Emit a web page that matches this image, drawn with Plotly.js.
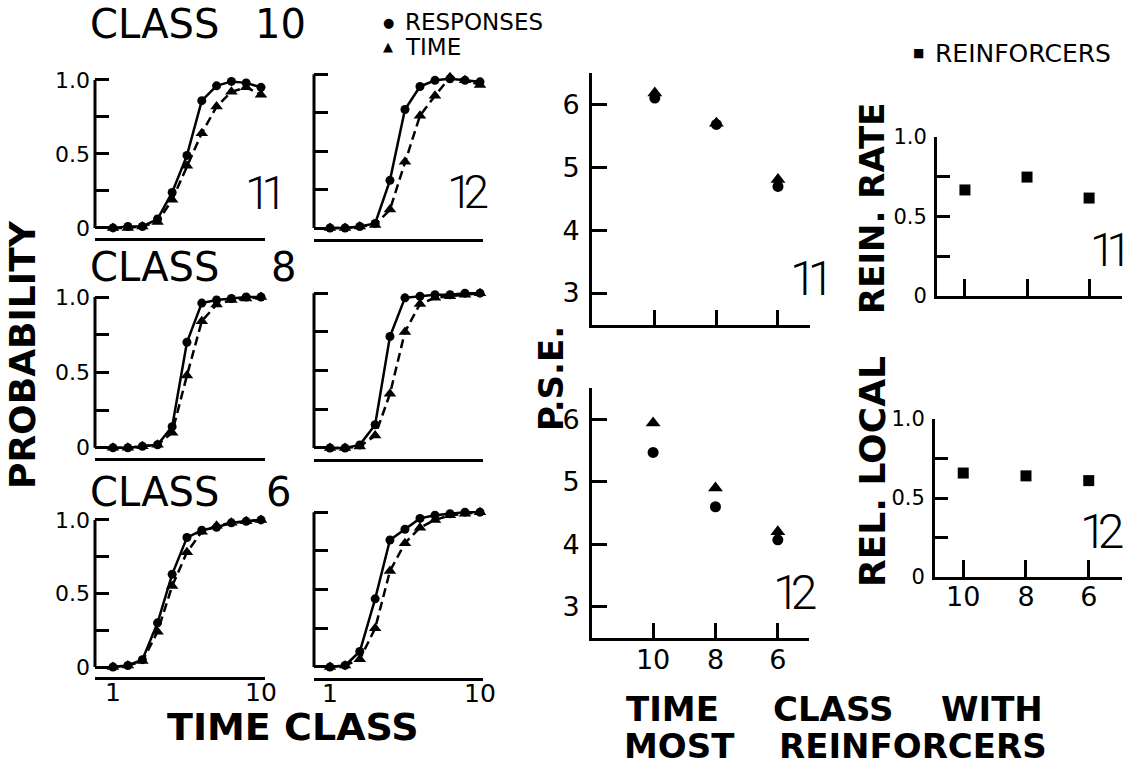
<!DOCTYPE html>
<html>
<head>
<meta charset="utf-8">
<script src="https://cdn.plot.ly/plotly-3.0.1.min.js"></script>
<style>body{margin:0;background:#fff}#chart{width:1130px;height:767px}</style>
</head>
<body>
<div id="chart"></div>
<script>
// ---------- data ----------
const timeClass = [1, 1.26, 1.58, 2, 2.51, 3.16, 3.98, 5.01, 6.31, 7.94, 10];

const s11c10Resp = [0, 0.01, 0.01, 0.06, 0.24, 0.49, 0.86, 0.96, 0.99, 0.98, 0.95];
const s11c10Time = [0, 0, 0.01, 0.04, 0.19, 0.42, 0.64, 0.82, 0.92, 0.95, 0.90];
const s12c10Resp = [0, 0, 0.01, 0.03, 0.31, 0.77, 0.92, 0.96, 0.97, 0.96, 0.95];
const s12c10Time = [0, 0, 0.01, 0.02, 0.12, 0.43, 0.73, 0.86, 0.98, 0.96, 0.93];
const s11c8Resp  = [0, 0, 0.01, 0.02, 0.14, 0.70, 0.96, 0.98, 0.99, 1.0, 1.0];
const s11c8Time  = [0, 0, 0.01, 0.02, 0.10, 0.48, 0.84, 0.95, 0.98, 0.99, 1.0];
const s12c8Resp  = [0, 0, 0.02, 0.15, 0.72, 0.97, 0.98, 0.99, 0.99, 1.0, 1.0];
const s12c8Time  = [0, 0, 0.01, 0.08, 0.35, 0.75, 0.93, 0.97, 0.98, 0.99, 1.0];
const s11c6Resp  = [0, 0.01, 0.05, 0.30, 0.63, 0.88, 0.93, 0.95, 0.98, 0.99, 1.0];
const s11c6Time  = [0, 0.01, 0.04, 0.24, 0.55, 0.78, 0.92, 0.96, 0.98, 0.99, 1.0];
const s12c6Resp  = [0, 0.01, 0.10, 0.44, 0.82, 0.89, 0.96, 0.98, 0.99, 1.0, 1.0];
const s12c6Time  = [0, 0.01, 0.05, 0.25, 0.62, 0.80, 0.90, 0.95, 0.98, 0.99, 1.0];

const classes = ['10', '8', '6'];
const pse11Resp = [6.11, 5.69, 4.70];
const pse11Time = [6.19, 5.71, 4.81];
const pse12Resp = [5.47, 4.60, 4.07];
const pse12Time = [5.94, 4.90, 4.20];
const rein11 = [0.667, 0.748, 0.616];
const rein12 = [0.658, 0.640, 0.610];

const probTickVals = [0, 0.25, 0.5, 0.75, 1];
const probTickText = ['0', '', '0.5', '', '1.0'];
const pseTickVals = [3, 4, 5, 6];

// ---------- layout helpers ----------
const W = 1130, H = 767;
const FONT = 'DejaVu Sans';
const xd = (a, b) => [a / W, b / W];
const yd = (t, b) => [1 - b / H, 1 - t / H];

const traces = [];
const layout = {
  width: W, height: H, autosize: false,
  margin: {l: 0, r: 0, t: 0, b: 0},
  paper_bgcolor: '#fff', plot_bgcolor: 'rgba(0,0,0,0)',
  showlegend: false,
  font: {family: FONT, color: '#000'},
  shapes: [], annotations: []
};

// left six probability panels
const probPanels = [
  {resp: s11c10Resp, time: s11c10Time, x: [95, 265], y: [74, 238], left: true,  bottom: false, x1: 113, dec: 148},
  {resp: s12c10Resp, time: s12c10Time, x: [314, 483], y: [68, 238.5], left: false, bottom: false, x1: 330, dec: 150},
  {resp: s11c8Resp,  time: s11c8Time,  x: [95, 265], y: [291, 458], left: true,  bottom: false, x1: 113, dec: 148},
  {resp: s12c8Resp,  time: s12c8Time,  x: [314, 483], y: [287, 458.5], left: false, bottom: false, x1: 330, dec: 150},
  {resp: s11c6Resp,  time: s11c6Time,  x: [95, 265], y: [514, 677], left: true,  bottom: true, x1: 113, dec: 148},
  {resp: s12c6Resp,  time: s12c6Time,  x: [314, 483], y: [506, 677.5], left: false, bottom: true, x1: 330, dec: 150}
];

probPanels.forEach((p, i) => {
  const n = i + 1;
  const xa = 'x' + (n === 1 ? '' : n), ya = 'y' + (n === 1 ? '' : n);
  const xk = 'xaxis' + (n === 1 ? '' : n), yk = 'yaxis' + (n === 1 ? '' : n);
  traces.push({
    x: timeClass, y: p.time, xaxis: xa, yaxis: ya, type: 'scatter', mode: 'lines+markers',
    line: {color: '#000', width: 2.5, dash: '9px,5px'},
    marker: {symbol: 'triangle-up', size: 11, color: '#000'}, cliponaxis: false
  });
  traces.push({
    x: timeClass, y: p.resp, xaxis: xa, yaxis: ya, type: 'scatter', mode: 'lines+markers',
    line: {color: '#000', width: 2.5},
    marker: {symbol: 'circle', size: 9, color: '#000'}, cliponaxis: false
  });
  const lo = (p.x[0] - p.x1) / p.dec, hi = (p.x[1] - p.x1) / p.dec;
  layout[xk] = {
    domain: xd(p.x[0], p.x[1]), anchor: ya, type: 'log', range: [lo, hi],
    showline: true, linewidth: 3, linecolor: '#000', showgrid: false, zeroline: false,
    ticks: '', showticklabels: p.bottom, tickvals: [1, 10], ticktext: ['1', '10'],
    tickfont: {family: FONT, size: 25, color: '#000'}, ticklabelstandoff: -9
  };
  layout[yk] = {
    domain: yd(p.y[0], p.y[1]), anchor: xa, range: [-0.068, 1.04],
    showline: false, showgrid: false, zeroline: false,
    ticks: 'inside', ticklen: 14, tickwidth: 3, tickcolor: '#000',
    tickvals: probTickVals, ticktext: probTickText, showticklabels: p.left,
    tickfont: {family: FONT, size: 22, color: '#000'}, ticklabelstandoff: 4
  };
  layout.shapes.push({
    type: 'line', xref: xa + ' domain', yref: ya, x0: 0, x1: 0, y0: 0, y1: 1,
    line: {color: '#000', width: 3}
  });
});

// P.S.E. panels
const psePanels = [
  {resp: pse11Resp, time: pse11Time, x: [592, 810], y: [73, 325], xr: [-1.02, 2.52], yr: [2.49, 6.51], labels: false},
  {resp: pse12Resp, time: pse12Time, x: [592, 809], y: [388, 638], xr: [-0.98, 2.5], yr: [2.5, 6.5], labels: true}
];
psePanels.forEach((p, i) => {
  const n = i + 7;
  const xa = 'x' + n, ya = 'y' + n;
  traces.push({
    x: classes, y: p.resp, xaxis: xa, yaxis: ya, type: 'scatter', mode: 'markers',
    marker: {symbol: 'circle', size: 11, color: '#000'}, cliponaxis: false
  });
  traces.push({
    x: classes, y: p.time, xaxis: xa, yaxis: ya, type: 'scatter', mode: 'markers',
    marker: {symbol: 'triangle-up', size: 13, color: '#000'}, cliponaxis: false
  });
  layout['xaxis' + n] = {
    domain: xd(p.x[0], p.x[1]), anchor: ya, type: 'category', range: p.xr,
    showline: true, linewidth: 3, linecolor: '#000', showgrid: false, zeroline: false,
    ticks: 'inside', ticklen: 15, tickwidth: 3, tickcolor: '#000',
    showticklabels: p.labels, tickfont: {family: FONT, size: 27, color: '#000'}, ticklabelstandoff: -4
  };
  layout['yaxis' + n] = {
    domain: yd(p.y[0], p.y[1]), anchor: xa, range: p.yr,
    showline: true, linewidth: 3, linecolor: '#000', showgrid: false, zeroline: false,
    ticks: 'inside', ticklen: 15, tickwidth: 3, tickcolor: '#000',
    tickvals: pseTickVals, tickfont: {family: FONT, size: 27, color: '#000'}, ticklabelstandoff: 4
  };
});

// relative local reinforcement rate panels
const reinPanels = [
  {vals: rein11, x: [937, 1122], y: [137, 296], labels: false},
  {vals: rein12, x: [935, 1122], y: [419, 577], labels: true}
];
reinPanels.forEach((p, i) => {
  const n = i + 9;
  const xa = 'x' + n, ya = 'y' + n;
  traces.push({
    x: classes, y: p.vals, xaxis: xa, yaxis: ya, type: 'scatter', mode: 'markers',
    marker: {symbol: 'square', size: 11, color: '#000'}, cliponaxis: false
  });
  layout['xaxis' + n] = {
    domain: xd(p.x[0], p.x[1]), anchor: ya, type: 'category', range: [-0.45, 2.53],
    showline: true, linewidth: 3, linecolor: '#000', showgrid: false, zeroline: false,
    ticks: 'inside', ticklen: 17, tickwidth: 3, tickcolor: '#000',
    showticklabels: p.labels, tickfont: {family: FONT, size: 27, color: '#000'}, ticklabelstandoff: -6
  };
  layout['yaxis' + n] = {
    domain: yd(p.y[0], p.y[1]), anchor: xa, range: [0, 1],
    showline: true, linewidth: 3, linecolor: '#000', showgrid: false, zeroline: false,
    ticks: 'inside', ticklen: 13, tickwidth: 3, tickcolor: '#000',
    tickvals: probTickVals, ticktext: probTickText,
    tickfont: {family: FONT, size: 21, color: '#000'}, ticklabelstandoff: 3
  };
});

// ---------- text ----------
function ann(text, x, y, size, o) {
  o = o || {};
  layout.annotations.push({
    text: text, xref: 'paper', yref: 'paper', x: x / W, y: 1 - y / H,
    xanchor: o.xanchor || 'center', yanchor: 'middle', showarrow: false,
    textangle: o.angle || 0, borderpad: 0,
    font: {family: o.family || FONT, size: size, color: '#000', weight: o.weight || 'normal'}
  });
}
const BOLD = {weight: 'bold'};
function thin(xanchor) { return {family: 'Roboto', weight: 300, xanchor: xanchor || 'center'}; }
const num = t => '<span style="letter-spacing:-9px">' + t + '</span>';

ann('CLASS', 154, 24, 40);
ann('10', 280, 24, 40);
ann('CLASS', 154, 267, 40);
ann('8', 283, 267, 40);
ann('CLASS', 154, 492, 40);
ann('6', 278, 492, 40);

ann('\u25CF', 388, 22, 13);
ann('RESPONSES', 404, 22, 23, {xanchor: 'left'});
ann('\u25B2', 388, 47, 13);
ann('TIME', 404, 47, 23, {xanchor: 'left'});
ann('\u25A0', 918, 53, 12);
ann('REINFORCERS', 934, 53, 25, {xanchor: 'left'});

ann('PROBABILITY', 22, 355, 36, {weight: 'bold', angle: -90});
ann('P.S.E.', 551, 379, 34, {weight: 'bold', angle: -90});
ann('REIN. RATE', 872, 208, 34, {weight: 'bold', angle: -90});
ann('REL. LOCAL', 872, 472, 36, {weight: 'bold', angle: -90});

ann('TIME CLASS', 293, 727, 38, BOLD);
ann('TIME', 672, 709, 34, BOLD);
ann('CLASS', 833, 709, 34, BOLD);
ann('WITH', 992, 709, 34, BOLD);
ann('MOST', 679, 746, 34, BOLD);
ann('REINFORCERS', 913, 746, 34, BOLD);

ann(num('11'), 261, 193, 46, thin());
ann(num('12'), 467, 192, 46, thin());
ann(num('11'), 807, 278, 48, thin());
ann(num('12'), 794, 592, 48, thin());
ann(num('11'), 1124, 250, 46, thin('right'));
ann(num('12'), 1124, 531, 48, thin('right'));

Plotly.newPlot('chart', traces, layout, {staticPlot: true, displayModeBar: false});
</script>
</body>
</html>
